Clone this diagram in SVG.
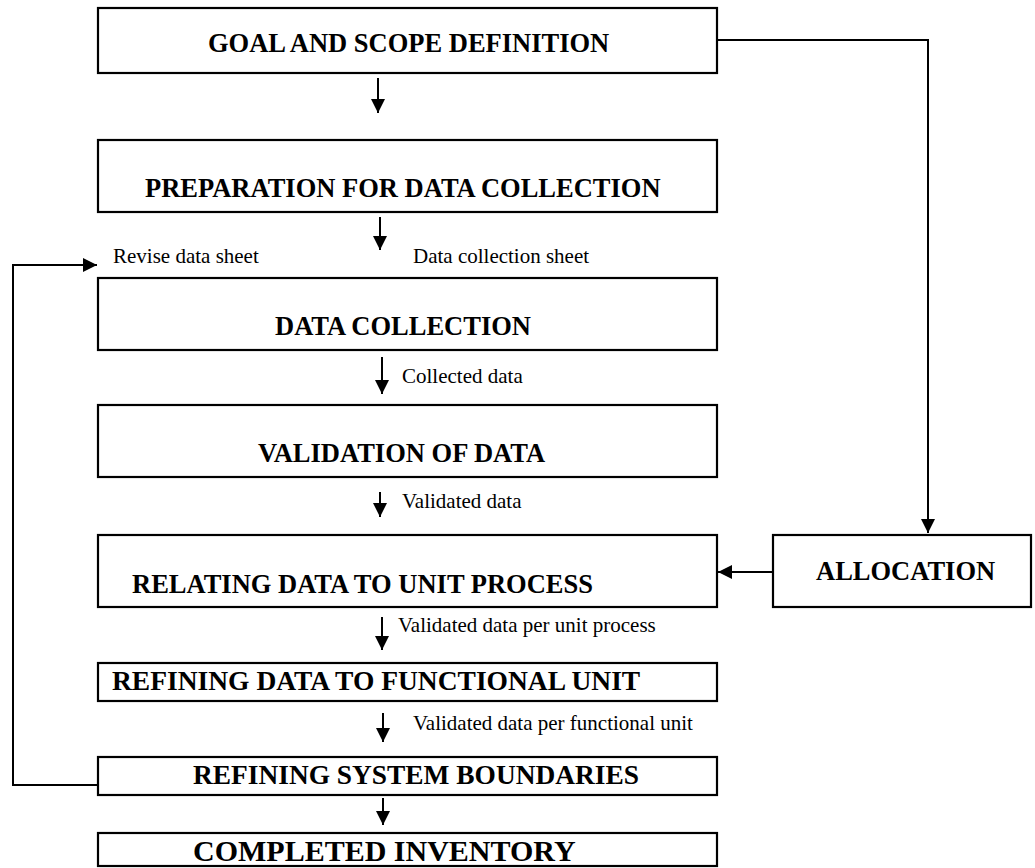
<svg xmlns="http://www.w3.org/2000/svg" width="1035" height="868" viewBox="0 0 1035 868">
  <style>
    .box { fill: #fff; stroke: #000; stroke-width: 2.2; }
    .title { font-family: "Liberation Serif", "Times New Roman", serif; font-weight: bold; font-size: 26.5px; fill: #000; }
    .label { font-family: "Liberation Serif", "Times New Roman", serif; font-size: 21px; fill: #000; }
    .wire { fill: none; stroke: #000; stroke-width: 2; }
  </style>
  <defs>
    <marker id="head" markerUnits="userSpaceOnUse" markerWidth="14" markerHeight="14" refX="14" refY="7" orient="auto">
      <path d="M0,0 L14,7 L0,14 z" fill="#000"/>
    </marker>
  </defs>
  <rect width="1035" height="868" fill="#fff"/>

  <g id="goal">
    <rect class="box" x="98" y="8" width="619" height="65"/>
    <text class="title" x="208" y="52">GOAL AND SCOPE DEFINITION</text>
  </g>
  <g id="preparation">
    <rect class="box" x="98" y="140" width="619" height="72"/>
    <text class="title" x="145" y="197">PREPARATION FOR DATA COLLECTION</text>
  </g>
  <g id="collection">
    <rect class="box" x="98" y="278" width="619" height="72"/>
    <text class="title" x="275" y="335">DATA COLLECTION</text>
  </g>
  <g id="validation">
    <rect class="box" x="98" y="405" width="619" height="72"/>
    <text class="title" x="258" y="462">VALIDATION OF DATA</text>
  </g>
  <g id="relating">
    <rect class="box" x="98" y="535" width="619" height="72"/>
    <text class="title" x="132" y="593">RELATING DATA TO UNIT PROCESS</text>
  </g>
  <g id="refining-data">
    <rect class="box" x="98" y="663" width="619" height="38"/>
    <text class="title" x="112" y="690" style="font-size:27.5px">REFINING DATA TO FUNCTIONAL UNIT</text>
  </g>
  <g id="refining-boundaries">
    <rect class="box" x="98" y="757" width="619" height="38"/>
    <text class="title" x="193" y="784" style="font-size:27.4px">REFINING SYSTEM BOUNDARIES</text>
  </g>
  <g id="completed">
    <rect class="box" x="98" y="833" width="619" height="33"/>
    <text class="title" x="193" y="861" style="font-size:30px">COMPLETED INVENTORY</text>
  </g>
  <g id="allocation">
    <rect class="box" x="773" y="535" width="258" height="72"/>
    <text class="title" x="816" y="580">ALLOCATION</text>
  </g>

  <g id="connectors">
    <line class="wire" x1="378" y1="78" x2="378" y2="113" marker-end="url(#head)"/>
    <line class="wire" x1="380" y1="217" x2="380" y2="250" marker-end="url(#head)"/>
    <line class="wire" x1="382" y1="357" x2="382" y2="394" marker-end="url(#head)"/>
    <line class="wire" x1="380" y1="492" x2="380" y2="517" marker-end="url(#head)"/>
    <line class="wire" x1="382" y1="617" x2="382" y2="650" marker-end="url(#head)"/>
    <line class="wire" x1="383" y1="713" x2="383" y2="742" marker-end="url(#head)"/>
    <line class="wire" x1="383" y1="798" x2="383" y2="825" marker-end="url(#head)"/>
    <polyline class="wire" points="98,785 13,785 13,265 97,265" marker-end="url(#head)"/>
    <polyline class="wire" points="716,40 928,40 928,533" marker-end="url(#head)"/>
    <line class="wire" x1="772" y1="572" x2="718" y2="572" marker-end="url(#head)"/>
  </g>

  <g id="labels">
    <text class="label" x="113" y="263">Revise data sheet</text>
    <text class="label" x="413" y="263">Data collection sheet</text>
    <text class="label" x="402" y="383">Collected data</text>
    <text class="label" x="402" y="508">Validated data</text>
    <text class="label" x="398" y="632">Validated data per unit process</text>
    <text class="label" x="413" y="730">Validated data per functional unit</text>
  </g>
</svg>
